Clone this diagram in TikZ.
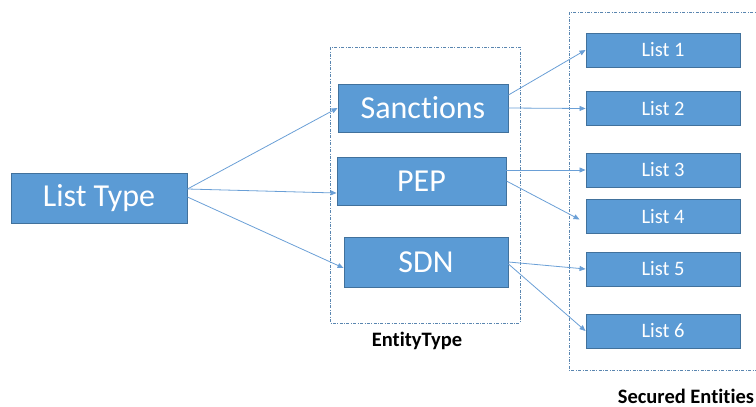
\documentclass[tikz,border=0pt]{standalone}
\usepackage{fontspec}
\setmainfont{Carlito}[Ligatures=NoCommon]
\usetikzlibrary{arrows.meta}
\definecolor{boxfill}{HTML}{5B9BD5}
\definecolor{boxline}{HTML}{41719C}
\definecolor{linkc}{HTML}{6A9FD6}
\definecolor{groupc}{HTML}{5A86B0}
\tikzset{
  bigbox/.style={draw=boxline, fill=boxfill, line width=0.9pt, text=white,
    font=\fontsize{32}{32}\selectfont, inner sep=0pt, anchor=center},
  listbox/.style={draw=boxline, fill=boxfill, line width=0.9pt, text=white,
    font=\fontsize{20.5}{20.5}\selectfont, minimum width=154pt, minimum height=34pt,
    inner sep=0pt},
  group/.style={draw=groupc, line width=0.6pt, dash pattern=on 3pt off 1.5pt on 0.8pt off 1.5pt},
  link/.style={draw=linkc, line width=0.8pt, -{Triangle[length=6pt,width=5pt]}},
  caption/.style={font=\bfseries\fontsize{20.5}{20.5}\selectfont, text=black,
    anchor=base, inner sep=0pt}
}
\begin{document}
\begin{tikzpicture}[x=1pt,y=-1pt]
\useasboundingbox (0,0) rectangle (756,407);
% dashed group frames
\draw[group] (330,47) rectangle (520,323);
\draw[group] (569,12) rectangle (762,370);
% source node
\node[bigbox, minimum width=176pt, minimum height=50pt] (lt) at (99,198) {List Type};
% entity types
\node[bigbox, minimum width=170pt, minimum height=48pt] (san) at (423,108) {Sanctions};
\node[bigbox, minimum width=169pt, minimum height=48pt] (pep) at (421.5,181) {PEP};
\node[bigbox, minimum width=164pt, minimum height=50pt] (sdn) at (426,262) {SDN};
% secured lists
\node[listbox] (l1) at (663,50) {List 1};
\node[listbox] (l2) at (663,108.5) {List 2};
\node[listbox] (l3) at (663,170) {List 3};
\node[listbox] (l4) at (663,216.5) {List 4};
\node[listbox] (l5) at (663,269) {List 5};
\node[listbox] (l6) at (663,331) {List 6};
% captions
\node[caption] (cap1) at (417,346) {EntityType};
\node[caption] (cap2) at (686,403) {Secured Entities};
% connectors
\draw[link] ([yshift=9pt]lt.east) -- (san.west);
\draw[link] ([yshift=9pt]lt.east) -- ([yshift=-12pt]pep.west);
\draw[link] ([yshift=1pt]lt.east) -- ([yshift=-6pt]sdn.west);
\draw[link] ([yshift=13pt]san.east) -- (l1.west);
\draw[link] (san.east) -- (l2.west);
\draw[link] ([yshift=11pt]pep.east) -- (l3.west);
\coordinate (l4in) at ([xshift=-6pt,yshift=-3pt]l4.west);
\draw[link] (pep.east) -- (l4in);
\draw[link] (sdn.east) -- (l5.west);
\draw[link] ([yshift=-2pt]sdn.east) -- (l6.west);
\end{tikzpicture}
\end{document}
